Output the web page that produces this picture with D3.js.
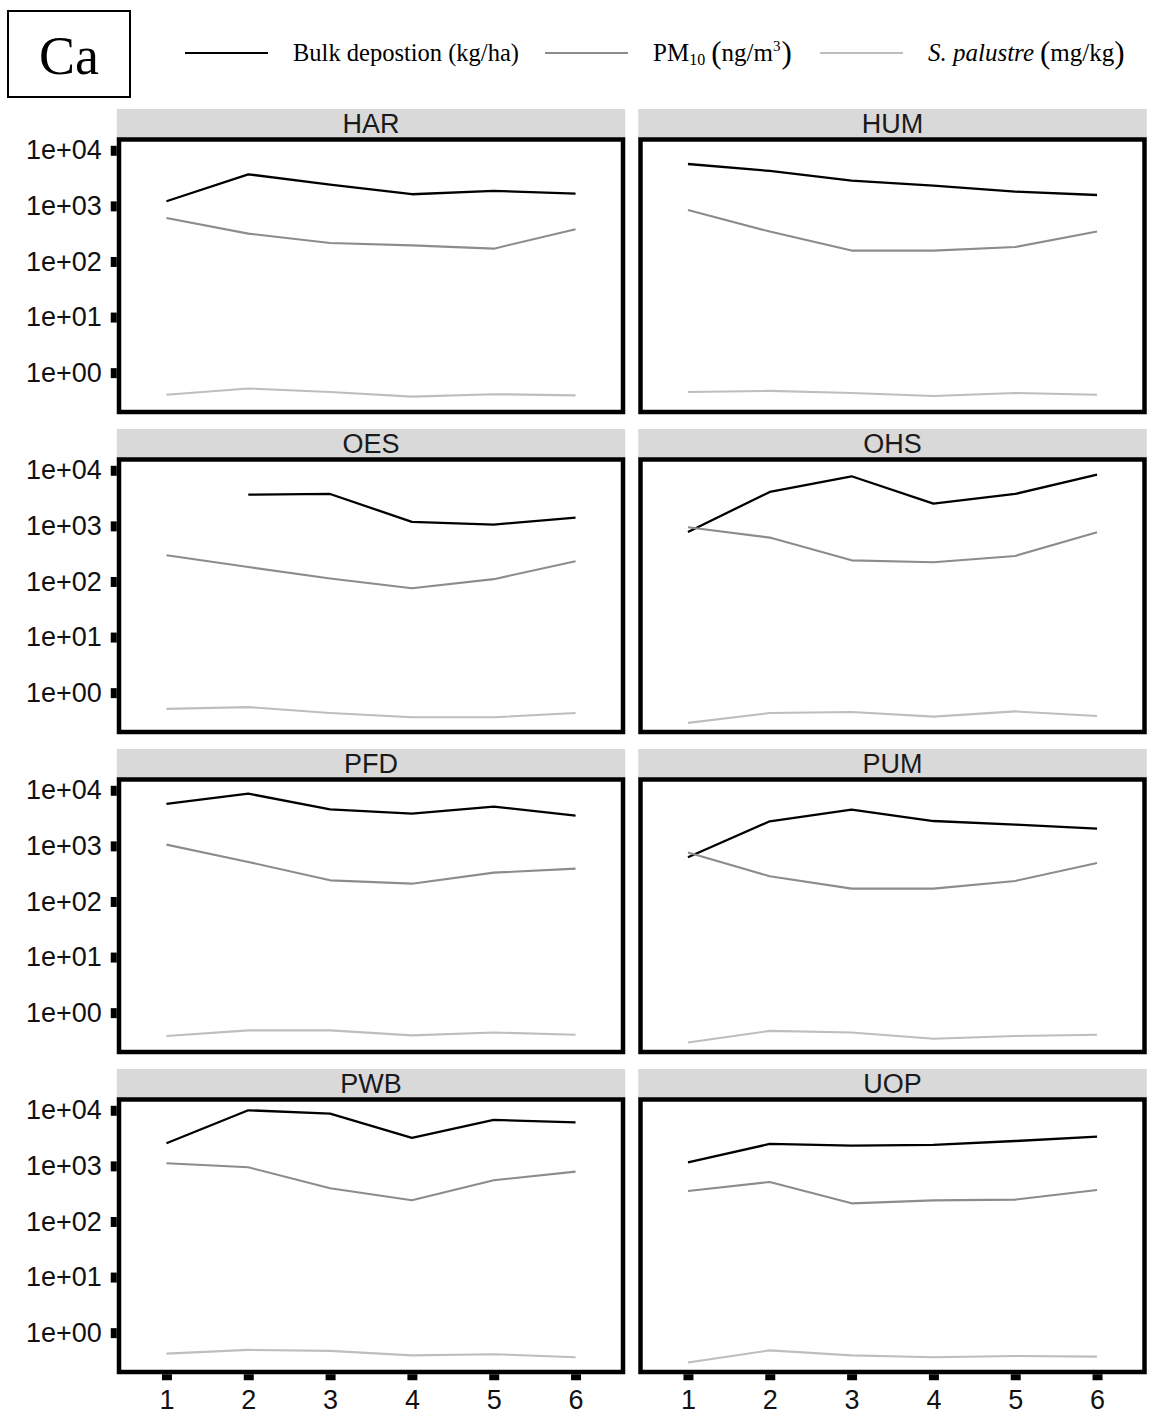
<!DOCTYPE html>
<html>
<head>
<meta charset="utf-8">
<script src="https://cdn.jsdelivr.net/npm/d3@7"></script>
<style>
  body { margin: 0; background: #fff; }
  svg { display: block; }
</style>
</head>
<body>
<svg id="chart" width="1149" height="1414"></svg>
<script>
// Sampling sites (one facet each) and sampling periods
const sites = ["HAR", "HUM", "OES", "OHS", "PFD", "PUM", "PWB", "UOP"];
const periods = [1, 2, 3, 4, 5, 6];

// Ca in bulk deposition (kg/ha), one row per site in `sites` order
const bulkDeposition = [
  [1210, 3700, 2410, 1620, 1860, 1660],
  [5670, 4250, 2840, 2310, 1800, 1570],
  [null, 3650, 3750, 1180, 1055, 1410],
  [778, 4080, 7800, 2510, 3750, 8360],
  [5680, 8710, 4550, 3800, 5080, 3500],
  [624, 2770, 4490, 2800, 2410, 2045],
  [2550, 10000, 8710, 3180, 6700, 6080],
  [1160, 2480, 2310, 2380, 2800, 3360]
];

// Ca in PM10 (ng/m3)
const pm10 = [
  [607, 317, 215, 195, 170, 380],
  [843, 345, 157, 157, 182, 345],
  [296, 182, 113, 75.5, 110, 231],
  [944, 615, 240, 221, 288, 767],
  [1054, 514, 240, 209, 330, 390],
  [757, 284, 170, 170, 234, 493],
  [1114, 944, 396, 240, 551, 789],
  [354, 514, 212, 240, 247, 369]
];

// Ca in S. palustre moss (mg/kg)
const sPalustre = [
  [0.40, 0.52, 0.45, 0.37, 0.41, 0.39],
  [0.45, 0.47, 0.43, 0.38, 0.43, 0.40],
  [0.51, 0.55, 0.43, 0.36, 0.36, 0.43],
  [0.286, 0.43, 0.45, 0.37, 0.46, 0.38],
  [0.38, 0.48, 0.48, 0.39, 0.44, 0.40],
  [0.29, 0.47, 0.44, 0.34, 0.38, 0.40],
  [0.42, 0.49, 0.47, 0.39, 0.41, 0.36],
  [0.29, 0.48, 0.39, 0.36, 0.38, 0.37]
];

const yTicks = [1, 10, 100, 1000, 10000];
const yTickLabels = ["1e+00", "1e+01", "1e+02", "1e+03", "1e+04"];
const seriesNames = ["Bulk depostion (kg/ha)", "PM10 (ng/m3)", "S. palustre (mg/kg)"];

// ---- styling & layout ----
const seriesData = [bulkDeposition, pm10, sPalustre];
const seriesColor = ["#000000", "#8c8c8c", "#bebebe"];
const seriesWidth = [2.3, 2.1, 2.1];

const sans = "'Liberation Sans', Arial, sans-serif";
const serif = "'Liberation Serif', 'Times New Roman', serif";

const colLeft = [119, 640.5];
const panelW = 504;
const rowTop0 = 139.5;
const rowStep = 320;
const panelH = 272.5;
const borderW = 4.5;

const svg = d3.select("#chart");

sites.forEach((site, i) => {
  const col = i % 2, row = Math.floor(i / 2);
  const x0 = colLeft[col], y0 = rowTop0 + row * rowStep;

  const x = d3.scaleLinear().domain([0.42, 6.58]).range([x0, x0 + panelW]);
  const y = d3.scaleLog().domain([0.196, 15630]).range([y0 + panelH, y0]);

  const g = svg.append("g").attr("class", "panel");

  // facet strip
  g.append("rect")
    .attr("x", x0 - borderW / 2).attr("y", y0 - 30.5)
    .attr("width", panelW + borderW).attr("height", 30.5)
    .attr("fill", "#d9d9d9");
  g.append("text")
    .attr("x", x0 + panelW / 2).attr("y", y0 - 6.5)
    .attr("text-anchor", "middle")
    .attr("font-family", sans).attr("font-size", 27)
    .attr("fill", "#1a1a1a")
    .text(site);

  // series lines
  const line = d3.line()
    .defined(d => d != null)
    .x((d, j) => x(periods[j]))
    .y(d => y(d));
  seriesData.forEach((s, k) => {
    g.append("path")
      .attr("d", line(s[i]))
      .attr("fill", "none")
      .attr("stroke", seriesColor[k])
      .attr("stroke-width", seriesWidth[k])
      .attr("stroke-linejoin", "round");
  });

  // panel border
  g.append("rect")
    .attr("x", x0).attr("y", y0)
    .attr("width", panelW).attr("height", panelH)
    .attr("fill", "none").attr("stroke", "#000").attr("stroke-width", borderW);

  // y axis on the left column
  if (col === 0) {
    const ay = g.append("g")
      .attr("transform", `translate(${x0 - borderW / 2},0)`)
      .call(d3.axisLeft(y).tickValues(yTicks)
        .tickFormat((d, k) => yTickLabels[k])
        .tickSize(6).tickSizeOuter(0).tickPadding(9));
    ay.select(".domain").remove();
    ay.selectAll(".tick line").attr("stroke", "#000").attr("stroke-width", 10);
    ay.selectAll(".tick text")
      .attr("font-family", sans).attr("font-size", 27).attr("fill", "#111");
  }

  // x axis on the bottom row
  if (row === 3) {
    const ax = g.append("g")
      .attr("transform", `translate(0,${y0 + panelH + borderW / 2})`)
      .call(d3.axisBottom(x).tickValues(periods)
        .tickFormat(d3.format("d"))
        .tickSize(6).tickSizeOuter(0).tickPadding(10));
    ax.select(".domain").remove();
    ax.selectAll(".tick line").attr("stroke", "#000").attr("stroke-width", 10);
    ax.selectAll(".tick text")
      .attr("font-family", sans).attr("font-size", 27).attr("fill", "#111");
  }
});

// ---- element tag and legend ----
const header = svg.append("g");
header.append("rect")
  .attr("x", 8).attr("y", 11).attr("width", 122).attr("height", 86)
  .attr("fill", "none").attr("stroke", "#000").attr("stroke-width", 2);
header.append("text")
  .attr("x", 69).attr("y", 74).attr("text-anchor", "middle")
  .attr("font-family", serif).attr("font-size", 54)
  .text("Ca");

const legendKeys = [
  { x1: 185, x2: 268, tx: 293 },
  { x1: 545, x2: 628, tx: 653 },
  { x1: 820, x2: 903, tx: 928 }
];
legendKeys.forEach((k, i) => {
  header.append("line")
    .attr("x1", k.x1).attr("x2", k.x2).attr("y1", 53).attr("y2", 53)
    .attr("stroke", seriesColor[i]).attr("stroke-width", 2);
});

// Bulk deposition
header.append("text")
  .attr("x", legendKeys[0].tx).attr("y", 61)
  .attr("font-family", serif).attr("font-size", 24.5)
  .text(seriesNames[0]);

// PM10 with subscript / superscript
const pmText = header.append("text")
  .attr("x", legendKeys[1].tx).attr("y", 61)
  .attr("font-family", serif).attr("font-size", 25);
pmText.append("tspan").text("PM");
pmText.append("tspan").attr("font-size", 16).attr("dy", 4).text("10");
pmText.append("tspan").attr("font-size", 31).attr("dy", -2).attr("dx", 6).text("(");
pmText.append("tspan").attr("dy", -2).text("ng/m");
pmText.append("tspan").attr("font-size", 15).attr("dy", -10).text("3");
pmText.append("tspan").attr("font-size", 31).attr("dy", 12).attr("dx", 1).text(")");

// S. palustre
const spText = header.append("text")
  .attr("x", legendKeys[2].tx).attr("y", 61)
  .attr("font-family", serif).attr("font-size", 25);
spText.append("tspan").attr("font-style", "italic").text("S. palustre");
spText.append("tspan").attr("font-size", 31).attr("dy", 2).attr("dx", 6).text("(");
spText.append("tspan").attr("dy", -2).text("mg/kg");
spText.append("tspan").attr("font-size", 31).attr("dy", 2).text(")");
</script>
</body>
</html>
